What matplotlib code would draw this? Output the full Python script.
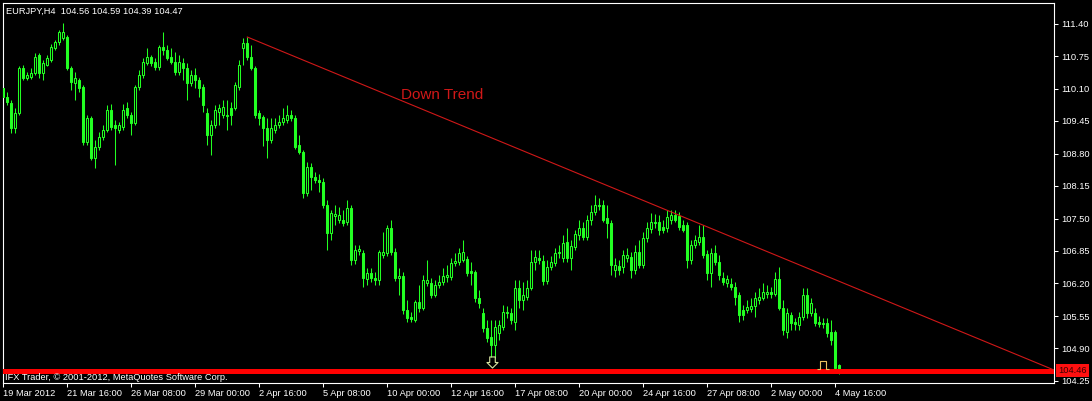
import matplotlib
matplotlib.use("Agg")
import matplotlib.pyplot as plt
from matplotlib.path import Path
from matplotlib.transforms import blended_transform_factory

plt.rcParams['font.family'] = ['Liberation Sans', 'DejaVu Sans']

# EURJPY H4 bars, 19 Mar 2012 00:00 .. 4 May 2012 20:00
opens = [
    110.11, 109.93, 109.81, 109.31, 109.61, 110.51, 110.31, 110.33, 110.41, 110.77,
    110.41, 110.57, 110.67, 110.91, 111.03, 111.11, 111.13, 110.51, 110.21, 110.27,
    110.13, 109.03, 109.51, 108.71, 108.93, 109.13, 109.27, 109.67, 109.37, 109.27,
    109.33, 109.71, 109.57, 109.41, 110.13, 110.37, 110.61, 110.73, 110.63, 110.53,
    110.93, 110.87, 110.73, 110.63, 110.43, 110.61, 110.51, 110.21, 110.37, 110.27,
    110.13, 109.61, 109.17, 109.37, 109.63, 109.57, 109.55, 109.71, 109.71, 110.13,
    110.91, 111.01, 110.73, 110.51, 109.61, 109.53, 109.31, 109.07, 109.27, 109.37,
    109.43, 109.47, 109.57, 109.51, 108.97, 108.83, 108.01, 108.53, 108.33, 108.27,
    108.23, 107.77, 107.21, 107.55, 107.47, 107.47, 107.43, 107.71, 106.67, 106.85,
    106.81, 106.29, 106.41, 106.31, 106.27, 106.77, 106.81, 107.31, 106.83, 106.31,
    106.35, 105.67, 105.53, 105.47, 105.83, 105.71, 106.21, 106.21, 105.97, 106.17,
    106.23, 106.33, 106.33, 106.61, 106.63, 106.67, 106.69, 106.45, 106.43, 105.91,
    105.61, 105.31, 105.13, 104.97, 105.21, 105.33, 105.61, 105.61, 105.43, 106.11,
    105.87, 105.93, 106.11, 106.63, 106.71, 106.65, 106.25, 106.53, 106.61, 106.81,
    106.71, 107.03, 106.71, 106.93, 107.17, 107.31, 107.13, 107.47, 107.63, 107.75,
    107.77, 107.51, 107.41, 106.47, 106.55, 106.53, 106.71, 106.73, 106.47, 106.83,
    106.57, 107.11, 107.29, 107.43, 107.43, 107.33, 107.31, 107.47, 107.57, 107.55,
    107.37, 107.37, 106.67, 106.97, 107.03, 107.13, 106.79, 106.41, 106.81, 106.63,
    106.31, 106.21, 106.19, 106.13, 105.97, 105.67, 105.67, 105.69, 105.75, 105.87,
    105.91, 105.99, 106.03, 105.99, 106.29, 105.71, 105.23, 105.57, 105.43, 105.37,
    105.53, 105.97, 105.61, 105.61, 105.43, 105.39, 105.41, 105.23, 105.23, 104.56,
]
highs = [
    110.19, 110.03, 109.87, 109.71, 110.55, 110.57, 110.43, 110.51, 110.81, 110.81,
    110.67, 110.77, 110.99, 111.07, 111.27, 111.41, 111.17, 110.55, 110.43, 110.31,
    110.17, 109.57, 109.55, 109.07, 109.23, 109.37, 109.77, 109.79, 109.47, 109.43,
    109.79, 109.83, 109.63, 110.17, 110.47, 110.71, 110.91, 110.77, 110.71, 110.97,
    111.23, 110.97, 110.91, 110.83, 110.77, 110.71, 110.61, 110.47, 110.51, 110.33,
    110.19, 109.71, 109.47, 109.77, 109.79, 109.87, 109.87, 109.83, 110.23, 110.67,
    111.11, 111.13, 110.97, 110.55, 109.67, 109.57, 109.51, 109.51, 109.51, 109.57,
    109.71, 109.77, 109.67, 109.57, 109.17, 108.87, 108.63, 108.61, 108.43, 108.39,
    108.31, 107.87, 107.67, 107.77, 107.73, 107.67, 107.87, 107.77, 106.97, 106.97,
    106.87, 106.51, 106.51, 106.43, 106.87, 107.23, 107.37, 107.47, 106.91, 106.51,
    106.43, 105.87, 105.63, 105.87, 106.17, 106.37, 106.67, 106.31, 106.27, 106.37,
    106.51, 106.57, 106.71, 106.81, 106.91, 107.07, 106.75, 106.63, 106.47, 106.07,
    105.71, 105.47, 105.47, 105.47, 105.47, 105.77, 105.75, 105.71, 106.27, 106.27,
    106.23, 106.27, 106.87, 106.87, 106.87, 106.77, 106.67, 106.75, 106.91, 106.97,
    107.17, 107.31, 107.07, 107.27, 107.47, 107.43, 107.57, 107.77, 107.97, 107.91,
    107.87, 107.77, 107.47, 106.71, 106.67, 106.87, 106.91, 106.83, 106.97, 107.07,
    107.23, 107.43, 107.61, 107.59, 107.57, 107.47, 107.67, 107.67, 107.67, 107.63,
    107.47, 107.43, 107.07, 107.17, 107.37, 107.37, 106.87, 106.91, 106.97, 106.77,
    106.43, 106.37, 106.31, 106.23, 106.03, 105.77, 105.87, 105.91, 106.03, 106.11,
    106.21, 106.17, 106.13, 106.43, 106.53, 105.87, 105.71, 105.63, 105.51, 105.63,
    106.11, 106.11, 105.91, 105.71, 105.55, 105.51, 105.51, 105.47, 105.27, 104.59,
]
lows = [
    109.87, 109.77, 109.21, 109.21, 109.57, 110.27, 110.27, 110.29, 110.37, 110.31,
    110.27, 110.55, 110.63, 110.87, 110.97, 111.07, 110.47, 110.07, 109.87, 110.03,
    108.97, 108.97, 108.67, 108.51, 108.87, 109.07, 109.23, 109.27, 108.57, 109.21,
    109.27, 109.51, 109.17, 109.37, 110.07, 110.31, 110.57, 110.55, 110.47, 110.47,
    110.77, 110.67, 110.59, 110.37, 110.37, 110.27, 109.87, 110.15, 110.11, 109.93,
    109.63, 108.97, 108.77, 109.31, 109.37, 109.51, 109.27, 109.37, 109.67, 110.07,
    110.57, 110.67, 110.47, 109.51, 109.37, 108.95, 108.71, 109.01, 109.21, 109.31,
    109.37, 109.41, 109.45, 108.89, 108.79, 107.91, 107.95, 108.07, 108.21, 108.03,
    107.71, 106.87, 107.07, 107.37, 107.41, 107.35, 107.37, 106.57, 106.59, 106.77,
    106.13, 106.17, 106.23, 106.17, 106.17, 106.71, 106.75, 106.77, 106.25, 105.97,
    105.59, 105.43, 105.43, 105.43, 105.63, 105.67, 106.15, 105.91, 105.93, 106.11,
    106.17, 106.23, 106.27, 106.55, 106.57, 106.63, 106.35, 106.17, 105.83, 105.71,
    105.23, 105.03, 104.73, 104.71, 105.07, 105.27, 105.51, 105.39, 105.27, 105.71,
    105.67, 105.87, 106.07, 106.47, 106.59, 106.17, 106.19, 106.47, 106.55, 106.71,
    106.63, 106.63, 106.47, 106.87, 107.07, 107.07, 107.07, 107.37, 107.57, 107.67,
    107.43, 107.11, 106.37, 106.33, 106.37, 106.41, 106.63, 106.31, 106.39, 106.51,
    106.51, 107.03, 107.21, 107.31, 107.17, 107.21, 107.23, 107.39, 107.43, 107.27,
    107.23, 106.51, 106.59, 106.91, 106.97, 106.71, 106.27, 106.13, 106.57, 106.27,
    106.17, 106.13, 106.07, 105.77, 105.43, 105.47, 105.61, 105.63, 105.53, 105.79,
    105.87, 105.91, 105.91, 105.95, 105.67, 105.17, 105.11, 105.27, 105.27, 105.27,
    105.47, 105.51, 105.55, 105.35, 105.33, 105.31, 105.13, 104.97, 104.43, 104.39,
]
closes = [
    109.93, 109.83, 109.31, 109.61, 110.51, 110.31, 110.37, 110.41, 110.73, 110.41,
    110.61, 110.71, 110.93, 111.03, 111.23, 111.23, 110.51, 110.23, 110.31, 110.11,
    109.03, 109.51, 108.71, 108.93, 109.13, 109.27, 109.67, 109.33, 109.31, 109.37,
    109.67, 109.57, 109.41, 110.13, 110.37, 110.63, 110.73, 110.61, 110.53, 110.93,
    110.87, 110.71, 110.63, 110.43, 110.63, 110.51, 110.21, 110.37, 110.27, 110.11,
    109.77, 109.17, 109.37, 109.67, 109.71, 109.73, 109.57, 109.57, 110.17, 110.57,
    111.01, 110.73, 110.51, 109.57, 109.51, 109.31, 109.07, 109.31, 109.37, 109.43,
    109.51, 109.57, 109.51, 108.93, 108.83, 108.01, 108.53, 108.33, 108.27, 108.23,
    107.77, 107.21, 107.61, 107.59, 107.57, 107.41, 107.71, 106.67, 106.87, 106.89,
    106.31, 106.41, 106.31, 106.27, 106.83, 106.83, 107.31, 106.83, 106.31, 106.35,
    105.67, 105.51, 105.49, 105.83, 105.71, 106.27, 106.27, 105.97, 106.17, 106.23,
    106.35, 106.37, 106.61, 106.65, 106.81, 106.83, 106.41, 106.41, 105.91, 105.81,
    105.31, 105.11, 104.97, 105.33, 105.37, 105.63, 105.63, 105.47, 106.11, 105.87,
    105.97, 106.11, 106.63, 106.73, 106.67, 106.25, 106.53, 106.63, 106.81, 106.83,
    107.01, 106.71, 106.95, 107.19, 107.31, 107.13, 107.47, 107.63, 107.77, 107.77,
    107.47, 107.41, 106.57, 106.57, 106.47, 106.77, 106.77, 106.47, 106.83, 106.57,
    107.11, 107.31, 107.43, 107.41, 107.27, 107.27, 107.53, 107.57, 107.47, 107.33,
    107.27, 106.67, 106.97, 107.07, 107.13, 106.77, 106.41, 106.81, 106.63, 106.37,
    106.23, 106.29, 106.13, 105.93, 105.57, 105.57, 105.73, 105.75, 105.91, 105.93,
    106.03, 106.03, 105.99, 106.29, 105.71, 105.27, 105.61, 105.41, 105.39, 105.53,
    105.97, 105.61, 105.81, 105.41, 105.39, 105.41, 105.21, 105.07, 104.51, 104.47,
]

x_tick_bars = [0, 16, 32, 48, 64, 80, 96, 112, 128, 144, 160, 176, 192, 208]
x_tick_labels = ["19 Mar 2012", "21 Mar 16:00", "26 Mar 08:00", "29 Mar 00:00",
                 "2 Apr 16:00", "5 Apr 08:00", "10 Apr 00:00", "12 Apr 16:00",
                 "17 Apr 08:00", "20 Apr 00:00", "24 Apr 16:00", "27 Apr 08:00",
                 "2 May 00:00", "4 May 16:00"]
y_ticks = [104.25, 104.90, 105.55, 106.20, 106.85, 107.50,
           108.15, 108.80, 109.45, 110.10, 110.75, 111.40]

bid_price = 104.46
trend_start = (61, 111.13)   # bar index, price
trend_end = (262.7, 104.47)
low_arrow = (122.3, 104.62)
stop_mark = (205, 104.56)

LIME = "#22ff22"
SMALL = 6.7

W, H = 1092, 401
fig = plt.figure(figsize=(W / 100, H / 100), dpi=100, facecolor="black")
ax = fig.add_axes([3 / W, 18 / H, 1051 / W, 380 / H])
ax.set_facecolor("black")

xs = list(range(len(closes)))

# wicks
ax.vlines(xs, lows, highs, color=LIME, linewidth=0.75, zorder=2)

# bodies: bull = hollow, bear = filled
bottoms = [min(o, c) for o, c in zip(opens, closes)]
heights = [max(abs(c - o), 0.005) for o, c in zip(opens, closes)]
faces = ["black" if c >= o else LIME for o, c in zip(opens, closes)]
ax.bar(xs, heights, bottom=bottoms, width=0.5, color=faces,
       edgecolor=LIME, linewidth=0.75, zorder=3)

# bid line and trend line
ax.axhline(bid_price, color="#ff0000", linewidth=3.6, zorder=4)
ax.plot([trend_start[0], trend_end[0]], [trend_start[1], trend_end[1]],
        color="#d01818", linewidth=0.8, zorder=5)
ax.text(99.5, 109.97, "Down Trend", color="#d01818", fontsize=11,
        ha="left", va="center", zorder=6)

# arrow objects
down_arrow = Path([(-0.25, 0.5), (0.25, 0.5), (0.25, 0.0), (0.5, 0.0),
                   (0.0, -0.5), (-0.5, 0.0), (-0.25, 0.0), (-0.25, 0.5)],
                  [Path.MOVETO] + [Path.LINETO] * 6 + [Path.CLOSEPOLY])
ax.plot([low_arrow[0]], [low_arrow[1]], marker=down_arrow, markersize=8,
        markerfacecolor="none", markeredgecolor="#d8e4a0",
        markeredgewidth=0.8, linestyle="none", zorder=6)
stop_path = Path([(-0.5, -0.3), (-0.22, -0.3), (-0.22, 0.3), (0.22, 0.3),
                  (0.22, -0.3), (0.5, -0.3)],
                 [Path.MOVETO] + [Path.LINETO] * 5)
ax.plot([stop_mark[0]], [stop_mark[1]], marker=stop_path, markersize=8.5,
        markerfacecolor="none", markeredgecolor="#e8c060",
        markeredgewidth=0.8, linestyle="none", zorder=6)

ax.set_xlim(-0.08, 262.7)
ax.set_ylim(104.21, 111.81)

ax.yaxis.tick_right()
ax.set_yticks(y_ticks, labels=[f"{v:.2f}" for v in y_ticks], ha="left")
ax.set_xticks(x_tick_bars, labels=x_tick_labels, ha="left")
ax.tick_params(axis="both", colors="white", labelcolor="white",
               length=3, width=0.75, labelsize=SMALL, direction="out")
ax.tick_params(axis="y", pad=2)
ax.tick_params(axis="x", pad=1.5)
for s in ax.spines.values():
    s.set_color("white")
    s.set_linewidth(0.8)

# current price label on the price scale
tr = blended_transform_factory(ax.transAxes, ax.transData)
ax.text(1.004, bid_price, "104.46", transform=tr, fontsize=SMALL,
        color="#3a0000", ha="left", va="center", clip_on=False, zorder=7,
        bbox=dict(boxstyle="square,pad=0.2", facecolor="#ff1010",
                  edgecolor="none"))

fig.text(6 / W, (H - 11) / H, "EURJPY,H4  104.56 104.59 104.39 104.47",
         color="white", fontsize=SMALL, ha="left", va="center")
fig.text(5 / W, (H - 377) / H,
         "IFX Trader, \u00a9 2001-2012, MetaQuotes Software Corp.",
         color="white", fontsize=SMALL, ha="left", va="center")

fig.savefig("out.png", dpi=100, facecolor="black")
